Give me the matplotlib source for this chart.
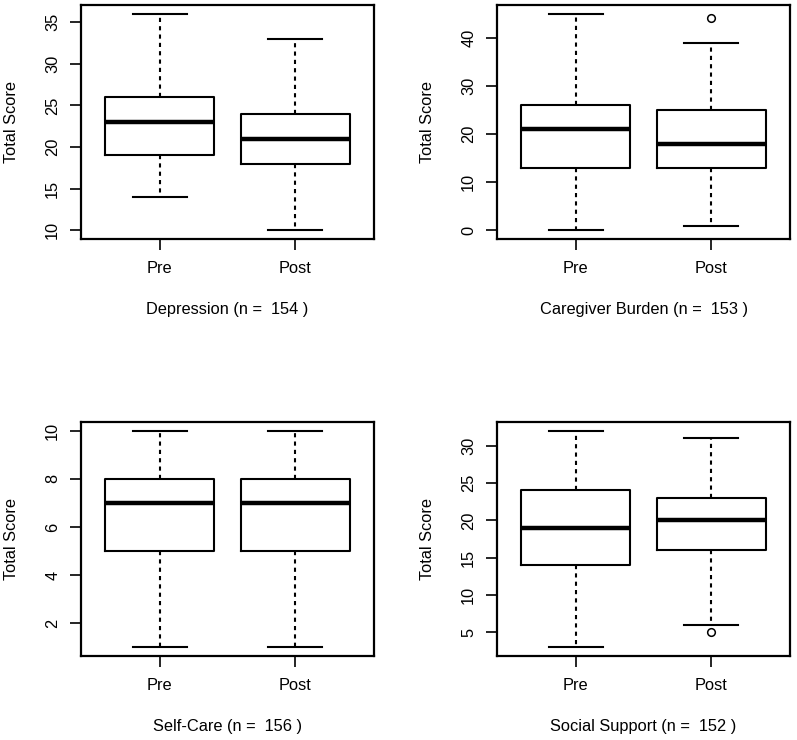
import matplotlib
matplotlib.use('Agg')
import matplotlib.pyplot as plt

plt.rcParams['font.family'] = ['Liberation Sans', 'DejaVu Sans']
plt.rcParams['font.size'] = 11.8

# --- Data ---
groups = ['Pre', 'Post']
titles = ['Depression', 'Caregiver Burden', 'Self-Care', 'Social Support']
n_obs = [154, 153, 156, 152]

# per panel: [Pre, Post] for each statistic
whis_lo = [[14, 10], [0, 1], [1, 1], [3, 6]]
q1 = [[19, 18], [13, 13], [5, 5], [14, 16]]
median = [[23, 21], [21, 18], [7, 7], [19, 20]]
q3 = [[26, 24], [26, 25], [8, 8], [24, 23]]
whis_hi = [[36, 33], [45, 39], [10, 10], [32, 31]]
outliers = [[[], []], [[], [44]], [[], []], [[], [5]]]

yticks = [
    [10, 15, 20, 25, 30, 35],
    [0, 10, 20, 30, 40],
    [2, 4, 6, 8, 10],
    [5, 10, 15, 20, 25, 30],
]

# --- Layout (pixel-based, figure is 797x740) ---
W, H = 797, 740
lefts = [81, 497, 81, 497]
tops = [5, 5, 422, 422]
aw, ah = 293, 234

fig = plt.figure(figsize=(W / 100, H / 100), dpi=100)

lw = 1.5
for i in range(4):
    ax = fig.add_axes([lefts[i] / W, 1 - (tops[i] + ah) / H, aw / W, ah / H])
    stats = []
    for j, g in enumerate(groups):
        stats.append({
            'label': g,
            'whislo': whis_lo[i][j], 'q1': q1[i][j], 'med': median[i][j],
            'q3': q3[i][j], 'whishi': whis_hi[i][j], 'fliers': outliers[i][j],
        })
    ax.bxp(stats, positions=[1, 2], widths=0.8, capwidths=0.4,
           showfliers=True,
           boxprops=dict(color='black', linewidth=lw),
           medianprops=dict(color='black', linewidth=3.2, solid_capstyle='butt'),
           whiskerprops=dict(color='black', linewidth=lw, linestyle=(0, (2, 2))),
           capprops=dict(color='black', linewidth=lw),
           flierprops=dict(marker='o', markersize=5.5, markerfacecolor='none',
                           markeredgecolor='black', markeredgewidth=1.1))

    # R-style axis ranges (4% padding)
    vals = whis_lo[i] + whis_hi[i] + [v for o in outliers[i] for v in o]
    lo, hi = min(vals), max(vals)
    pad = (hi - lo) * 0.04
    ax.set_ylim(lo - pad, hi + pad)
    ax.set_xlim(0.42, 2.58)

    ax.set_yticks(yticks[i])
    ax.set_yticklabels([str(t) for t in yticks[i]], rotation=90, va='center')
    ax.set_xticks([1, 2])
    ax.set_xticklabels(groups)
    ax.tick_params(axis='both', direction='out', length=8, width=1.2, color='black')
    ax.tick_params(axis='x', pad=8)
    ax.tick_params(axis='y', pad=7)
    for s in ax.spines.values():
        s.set_linewidth(1.6)

    ax.text(-69 / aw, 0.5, 'Total Score', transform=ax.transAxes,
            rotation=90, ha='center', va='center')
    ax.text(0.5, -71 / ah, titles[i] + ' (n =  ' + str(n_obs[i]) + ' )',
            transform=ax.transAxes, ha='center', va='center')

fig.savefig('out.png', dpi=100)
